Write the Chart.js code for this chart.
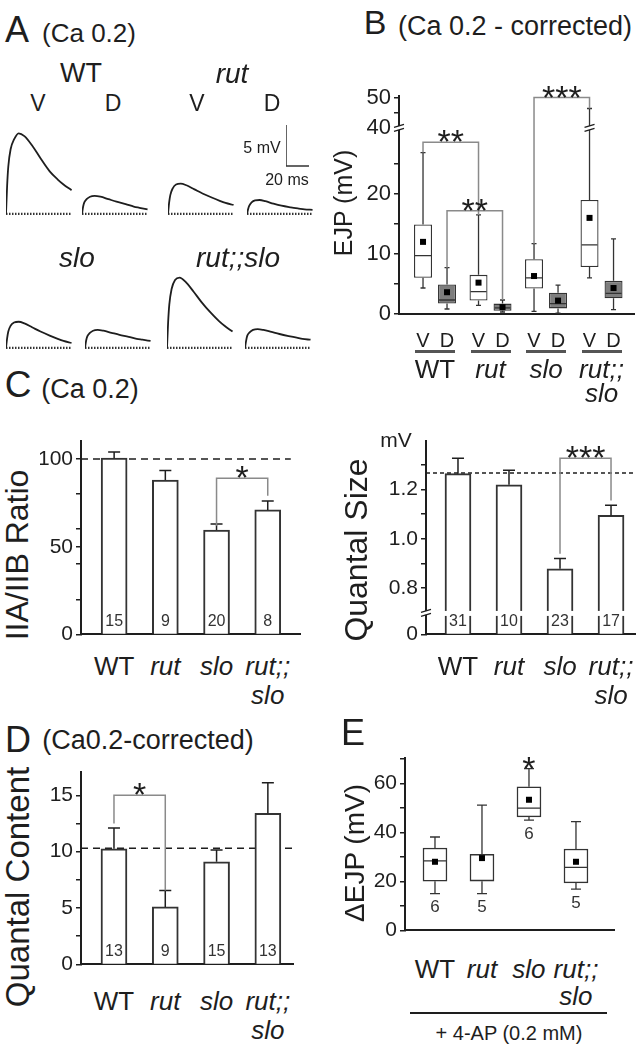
<!DOCTYPE html>
<html>
<head>
<meta charset="utf-8">
<title>EJP figure</title>
<script src="https://cdn.jsdelivr.net/npm/chart.js@4.4.1/dist/chart.umd.min.js"></script>
<style>
  html, body { margin: 0; padding: 0; background: #fff; }
  #fig { position: relative; width: 644px; height: 1050px; overflow: hidden;
         font-family: "Liberation Sans", Arial, sans-serif; color: #1e1e1e; }
  #fig canvas { position: absolute; }
  .t { position: absolute; white-space: nowrap; line-height: 1; transform: translate(-50%, -50%); }
  .t.i { font-style: italic; }
  .t.r { transform: translate(-50%, -50%) rotate(-90deg); }
  .rule { position: absolute; }
</style>
</head>
<body>
<div id="fig"></div>
<script>
const FONT = '"Liberation Sans", Arial, sans-serif';
const INK = '#1e1e1e';

// A: sample EJP traces (ms, mV)
const traceTime = [0, 1, 2, 4, 7, 11, 16, 23, 30, 38, 45, 50, 57];
const wtV   = [0, 3.5, 5.8, 7.9, 9.1, 9.85, 9.5, 8.3, 6.8, 5.2, 4.2, 3.6, 2.9];
const wtD   = [0, 0.9, 1.4, 1.8, 2.1, 2.2, 2.1, 1.8, 1.5, 1.2, 0.9, 0.75, 0.55];
const rutV  = [0, 1.4, 2.3, 3.1, 3.6, 3.7, 3.5, 3.0, 2.5, 2.0, 1.6, 1.35, 1.1];
const rutD  = [0, 0.6, 1.0, 1.4, 1.65, 1.7, 1.55, 1.25, 1.0, 0.8, 0.65, 0.55, 0.5];
const sloV  = [0, 1.2, 2.0, 2.7, 3.1, 3.2, 3.0, 2.5, 2.0, 1.5, 1.1, 0.85, 0.6];
const sloD  = [0, 0.9, 1.4, 1.8, 2.1, 2.2, 2.1, 1.85, 1.6, 1.35, 1.1, 1.0, 0.85];
const rsV   = [0, 3.2, 5.3, 7.2, 8.3, 8.6, 8.1, 6.9, 5.6, 4.3, 3.3, 2.7, 2.0];
const rsD   = [0, 0.9, 1.5, 1.9, 2.2, 2.3, 2.2, 1.95, 1.7, 1.45, 1.25, 1.1, 1.0];
const scaleMv = 5;
const scaleMs = 20;

const genotypes = ['WT', 'rut', 'slo', 'rut;;slo'];

// B: EJP box plots (mV), ventral (V) and dorsal (D)
const bVLow  = [4.3, 1.4, 0.4, 6.0];
const bVQ1   = [6.0, 2.2, 4.2, 7.8];
const bVMed  = [9.7, 3.7, 6.0, 11.5];
const bVQ3   = [14.9, 6.5, 9.1, 19.0];
const bVHigh = [26.9, 16.5, 11.7, 46.4];
const bVMean = [12.0, 5.2, 6.3, 16.0];
const bDLow  = [0.8, 0.3, 0.1, 0.7];
const bDQ1   = [1.7, 0.5, 0.9, 2.6];
const bDMed  = [2.3, 1.0, 1.7, 3.4];
const bDQ3   = [4.9, 1.7, 3.5, 5.5];
const bDHigh = [7.7, 2.3, 4.8, 12.5];
const bDMean = [3.6, 1.1, 2.2, 4.3];
const ejpTicks    = [0, 5, 10, 15, 20, 25, 40, 45, 50];
const ejpTickText = ['0', '', '10', '', '20', '', '40', '', '50'];

// C left: IIA/IIB ratio (%)
const ratioMean = [100.5, 88, 59.5, 71];
const ratioSem  = [3.5, 5.5, 3.5, 5];
const ratioN    = [15, 9, 20, 8];
const ratioTicks    = [0, 20, 40, 50, 60, 80, 100];
const ratioTickText = ['0', '', '', '50', '', '', '100'];

// C right: quantal size (mV), axis broken below 0.8
const sizeMean = [1.264, 1.219, 0.879, 1.095];
const sizeSem  = [0.063, 0.059, 0.041, 0.041];
const sizeN    = [31, 10, 23, 17];
const sizeTicks    = [0.613, 0.8, 0.9, 1.0, 1.1, 1.2, 1.3];
const sizeTickText = ['0', '0.8', '', '1.0', '', '1.2', ''];

// D: quantal content
const contentMean = [10.25, 5.1, 9.1, 13.4];
const contentSem  = [1.85, 1.45, 1.05, 2.7];
const contentN    = [13, 9, 15, 13];
const contentTicks    = [0, 2.5, 5, 7.5, 10, 12.5, 15];
const contentTickText = ['0', '', '5', '', '10', '', '15'];

// E: change of EJP with 4-AP (mV)
const eLow  = [15, 15, 45, 16.8];
const eQ1   = [20.1, 20.1, 46.3, 19.4];
const eMed  = [28.4, 20.4, 49.9, 25.7];
const eQ3   = [33.6, 31.0, 58.6, 33.2];
const eHigh = [38.1, 51.1, 66, 44.4];
const eMean = [28.0, 29.5, 53.3, 28.0];
const eN    = [6, 5, 6, 5];
const eSig  = ['', '', '*', ''];
const eTicks    = [0, 10, 20, 30, 40, 50, 60, 70];
const eTickText = ['0', '', '20', '', '40', '', '60', ''];

const fig = document.getElementById('fig');

function makeCanvas(left, top, w, h) {
  const c = document.createElement('canvas');
  c.width = w; c.height = h;
  c.style.left = left + 'px'; c.style.top = top + 'px';
  fig.appendChild(c);
  return c;
}
function label(text, x, y, size, cls) {
  const d = document.createElement('div');
  d.className = 't' + (cls ? ' ' + cls : '');
  d.textContent = text;
  d.style.left = x + 'px'; d.style.top = y + 'px'; d.style.fontSize = size + 'px';
  fig.appendChild(d);
}
function rule(x, y, w, h, color) {
  const d = document.createElement('div');
  d.className = 'rule';
  Object.assign(d.style, { left: x + 'px', top: y + 'px', width: w + 'px', height: h + 'px', background: color });
  fig.appendChild(d);
}

// broken axis for B: 40-50 squeezed above 31
const toD = v => (v < 40 ? v : 31 + (v - 40) * 0.508);

function stars(ctx, x, bottom, text) {
  ctx.save();
  ctx.fillStyle = INK;
  ctx.font = '34px ' + FONT;
  ctx.textAlign = 'center';
  ctx.textBaseline = 'alphabetic';
  ctx.fillText(text, x, bottom + 15);
  ctx.restore();
}
function bracket(ctx, xa, ya, xb, yb, yt, text) {
  ctx.save();
  ctx.strokeStyle = '#8a8a8a';
  ctx.lineWidth = 1.5;
  ctx.beginPath();
  ctx.moveTo(xa, ya); ctx.lineTo(xa, yt); ctx.lineTo(xb, yt); ctx.lineTo(xb, yb);
  ctx.stroke();
  ctx.restore();
  stars(ctx, (xa + xb) / 2, yt - 4, text);
}
function breakMark(ctx, x, y) {
  ctx.save();
  ctx.fillStyle = '#fff';
  ctx.fillRect(x - 5, y - 2, 10, 4);
  ctx.strokeStyle = INK;
  ctx.lineWidth = 1.3;
  ctx.beginPath();
  ctx.moveTo(x - 5, y - 0.5); ctx.lineTo(x + 5, y - 3.5);
  ctx.moveTo(x - 5, y + 3.5); ctx.lineTo(x + 5, y + 0.5);
  ctx.stroke();
  ctx.restore();
}

// ---------- Panel A ----------
const traceScales = {
  x: { type: 'linear', display: false, min: 0, max: 60 },
  y: { type: 'linear', display: false, min: -0.5, max: 10.5 }
};
function traceChart(canvas, values) {
  return new Chart(canvas, {
    type: 'line',
    data: { datasets: [
      { data: traceTime.map((t, i) => ({ x: t, y: values[i] })),
        borderColor: INK, borderWidth: 1.8, pointRadius: 0, cubicInterpolationMode: 'monotone' },
      { data: [{ x: traceTime[0], y: 0 }, { x: traceTime[traceTime.length - 1], y: 0 }],
        borderColor: '#333', borderWidth: 2.2, borderDash: [1.5, 1.5], pointRadius: 0 }
    ] },
    options: {
      responsive: false, animation: false, events: [],
      layout: { autoPadding: false, padding: { left: 2, right: 2, top: 2, bottom: 3 } },
      plugins: { legend: { display: false }, tooltip: { enabled: false } },
      scales: traceScales
    }
  });
}
[[wtV, 4, 126], [wtD, 80, 126], [rutV, 166, 126], [rutD, 245, 126],
 [sloV, 4, 260], [sloD, 83, 260], [rsV, 165, 260], [rsD, 243, 260]]
  .forEach(([vals, l, t]) => traceChart(makeCanvas(l, t, 73, 95), vals));

// scale bar, on the same mV / ms scale as the traces
new Chart(makeCanvas(284, 78, 73, 95), {
  type: 'line',
  data: { datasets: [{
    data: [{ x: 0, y: scaleMv }, { x: 0, y: 0 }, { x: scaleMs, y: 0 }],
    borderColor: '#333', borderWidth: 1.5, pointRadius: 0
  }] },
  options: {
    responsive: false, animation: false, events: [],
    layout: { autoPadding: false, padding: { left: 2, right: 2, top: 2, bottom: 3 } },
    plugins: { legend: { display: false }, tooltip: { enabled: false } },
    scales: traceScales
  }
});

// ---------- generic axis chart ----------
function axisChart(canvas, o) {
  return new Chart(canvas, {
    type: 'bar',
    data: { datasets: o.datasets },
    options: {
      responsive: false, animation: false, events: [],
      layout: { autoPadding: false, padding: o.pad },
      plugins: { legend: { display: false }, tooltip: { enabled: false } },
      scales: {
        x: {
          type: 'linear', min: o.xMin, max: o.xMax, offset: false,
          afterBuildTicks: s => { s.ticks = genotypes.map((g, i) => ({ value: i + 1 })); },
          ticks: { display: false }, grid: { display: false },
          border: { color: INK, width: 2 },
          afterFit: s => { s.height = o.xH; }
        },
        y: {
          type: 'linear', min: o.yMin, max: o.yMax,
          afterBuildTicks: s => { s.ticks = o.ticks.map(v => ({ value: v })); },
          ticks: {
            autoSkip: false, padding: 3, color: INK,
            font: { family: FONT, size: o.tickSize || 21 },
            callback: (v, i) => o.tickText[i]
          },
          grid: { drawOnChartArea: false, tickLength: 5, color: INK, lineWidth: 1.5 },
          border: { color: INK, width: 2 },
          afterFit: s => { s.width = o.yW; }
        }
      }
    },
    plugins: o.plugins
  });
}

function categoryLabels(chart, canvas, y1, y2, size) {
  genotypes.forEach((g, i) => {
    const x = canvas.offsetLeft + chart.scales.x.getPixelForValue(i + 1);
    const parts = g.split(';;');
    if (parts.length > 1) {
      label(parts[0] + ';;', x, y1, size, 'i');
      label(parts[1], x, y2, size, 'i');
    } else {
      label(g, x, y1, size, g === 'WT' ? '' : 'i');
    }
  });
}

// bar chart with sem, n, reference line and one bracket
function barChart(canvas, o) {
  const extras = {
    id: 'barExtras',
    beforeDatasetsDraw(chart) {
      const { ctx, chartArea: area, scales: { x, y } } = chart;
      const ry = y.getPixelForValue(o.ref);
      ctx.save();
      ctx.strokeStyle = INK; ctx.lineWidth = 1.5; ctx.setLineDash(o.refDash);
      ctx.beginPath();
      ctx.moveTo(area.left, ry);
      ctx.lineTo(o.refTo ? x.getPixelForValue(o.refTo) : area.right, ry);
      ctx.stroke();
      ctx.restore();
    },
    afterDatasetsDraw(chart) {
      const { ctx, chartArea: area, scales: { y } } = chart;
      const bars = chart.getDatasetMeta(0).data;
      ctx.save();
      ctx.strokeStyle = INK; ctx.lineWidth = 1.5;
      bars.forEach((b, i) => {
        const top = y.getPixelForValue(o.mean[i] + o.sem[i]);
        ctx.beginPath();
        ctx.moveTo(b.x, b.y); ctx.lineTo(b.x, top);
        ctx.moveTo(b.x - 6, top); ctx.lineTo(b.x + 6, top);
        ctx.stroke();
      });
      if (o.breakAt !== undefined) {
        const by = y.getPixelForValue(o.breakAt);
        ctx.fillStyle = '#fff';
        bars.forEach(b => ctx.fillRect(b.x - b.width / 2 - 2, by - 2, b.width + 4, 5));
        breakMark(ctx, area.left, by);
      }
      ctx.fillStyle = '#333';
      ctx.font = '16px ' + FONT;
      ctx.textAlign = 'center'; ctx.textBaseline = 'middle';
      bars.forEach((b, i) => ctx.fillText(String(o.n[i]), b.x, area.bottom - 13));
      const s = o.sig;
      bracket(ctx, bars[s.a].x, y.getPixelForValue(s.aEnd), bars[s.b].x, y.getPixelForValue(s.bEnd),
              y.getPixelForValue(s.top), s.text);
      ctx.restore();
    }
  };
  return axisChart(canvas, {
    pad: o.pad, xMin: o.xMin, xMax: o.xMax, xH: 5, yW: o.yW,
    yMin: o.yMin, yMax: o.yMax, ticks: o.ticks, tickText: o.tickText,
    datasets: [{
      data: o.mean.map((v, i) => ({ x: i + 1, y: v })),
      backgroundColor: '#fff', borderColor: '#333', borderWidth: 2,
      barThickness: 26, base: o.yMin
    }],
    plugins: [extras]
  });
}

// box plot extras: whiskers, median, mean
function boxExtras(series, cap, after) {
  return {
    id: 'boxExtras',
    afterDatasetsDraw(chart) {
      const { ctx, scales: { y } } = chart;
      ctx.save();
      series.forEach((s, di) => {
        chart.getDatasetMeta(di).data.forEach((b, i) => {
          const half = b.width / 2;
          const pTop = Math.min(b.y, b.base), pBot = Math.max(b.y, b.base);
          const yHi = y.getPixelForValue(s.high[i]);
          const yLo = y.getPixelForValue(s.low[i]);
          const yMed = y.getPixelForValue(s.med[i]);
          ctx.strokeStyle = '#333'; ctx.lineWidth = 1.3;
          ctx.beginPath();
          ctx.moveTo(b.x, pTop); ctx.lineTo(b.x, yHi);
          ctx.moveTo(b.x - cap, yHi); ctx.lineTo(b.x + cap, yHi);
          ctx.moveTo(b.x, pBot); ctx.lineTo(b.x, yLo);
          ctx.moveTo(b.x - cap, yLo); ctx.lineTo(b.x + cap, yLo);
          ctx.moveTo(b.x - half + 1, yMed); ctx.lineTo(b.x + half - 1, yMed);
          ctx.stroke();
          const yMean = y.getPixelForValue(s.mean[i]);
          ctx.fillStyle = '#000';
          ctx.fillRect(b.x - 3, yMean - 3, 6, 6);
        });
      });
      if (after) after(chart, ctx);
      ctx.restore();
    }
  };
}

// ---------- Panel B ----------
const sigB = [
  { a: [0, 0], b: [1, 0], level: 28.6, text: '**' },
  { a: [0, 1], b: [1, 1], level: 17.2, text: '**' },
  { a: [2, 0], b: [3, 0], level: 50.0, text: '***' }
];
const highB = [bVHigh, bDHigh];
const cB = makeCanvas(330, 80, 310, 250);
const chartB = axisChart(cB, {
  pad: { left: 0, top: 10, right: 6, bottom: 0 },
  xMin: 0.351, xMax: 4.585, xH: 4, yW: 69,
  yMin: 0, yMax: 36.3, tickSize: 22,
  ticks: ejpTicks.map(toD), tickText: ejpTickText,
  datasets: [
    { data: bVQ1.map((q, i) => ({ x: i + 1, y: [toD(q), toD(bVQ3[i])] })),
      backgroundColor: '#fff', borderColor: '#333', borderWidth: 1.3, borderSkipped: false,
      categoryPercentage: 0.865, barPercentage: 0.75 },
    { data: bDQ1.map((q, i) => ({ x: i + 1, y: [toD(q), toD(bDQ3[i])] })),
      backgroundColor: '#7d7d7d', borderColor: '#333', borderWidth: 1.3, borderSkipped: false,
      categoryPercentage: 0.865, barPercentage: 0.75 }
  ],
  plugins: [boxExtras([
    { low: bVLow.map(toD), med: bVMed.map(toD), high: bVHigh.map(toD), mean: bVMean.map(toD) },
    { low: bDLow.map(toD), med: bDMed.map(toD), high: bDHigh.map(toD), mean: bDMean.map(toD) }
  ], 2.5, (chart, ctx) => {
    const y = chart.scales.y;
    const px = ([g, s]) => chart.getDatasetMeta(s).data[g].x;
    sigB.forEach(s => {
      bracket(ctx, px(s.a), y.getPixelForValue(toD(highB[s.a[1]][s.a[0]])),
              px(s.b), y.getPixelForValue(toD(highB[s.b[1]][s.b[0]])),
              y.getPixelForValue(toD(s.level)), s.text);
    });
    const by = y.getPixelForValue(toD(40));
    breakMark(ctx, chart.chartArea.left, by);
    breakMark(ctx, px([3, 0]), by);
  })]
});
chartB.getDatasetMeta(0).data.forEach((v, i) => {
  const d = chartB.getDatasetMeta(1).data[i];
  const xv = cB.offsetLeft + v.x, xd = cB.offsetLeft + d.x;
  label('V', xv, 340, 20);
  label('D', xd, 340, 20);
  rule(xv - 8, 350, xd - xv + 16, 3, '#555');
});
categoryLabels(chartB, cB, 369, 393, 26);

// ---------- Panel C (left) ----------
const cC1 = makeCanvas(40, 425, 265, 225);
const chartC1 = barChart(cC1, {
  pad: { left: 0, top: 10, right: 5, bottom: 0 }, yW: 41,
  xMin: 0.353, xMax: 4.63, yMin: 0, yMax: 110.5,
  ticks: ratioTicks, tickText: ratioTickText,
  mean: ratioMean, sem: ratioSem, n: ratioN,
  ref: 100, refDash: [7, 5], refTo: 4.45,
  sig: { a: 2, b: 3, top: 89, aEnd: 62, bEnd: 79, text: '*' }
});
categoryLabels(chartC1, cC1, 666, 695, 26);

// ---------- Panel C (right) ----------
const cC2 = makeCanvas(380, 425, 260, 225);
const chartC2 = barChart(cC2, {
  pad: { left: 0, top: 10, right: 5, bottom: 0 }, yW: 46,
  xMin: 0.373, xMax: 4.47, yMin: 0.613, yMax: 1.398,
  ticks: sizeTicks, tickText: sizeTickText,
  mean: sizeMean, sem: sizeSem, n: sizeN,
  ref: 1.267, refDash: [4, 3], breakAt: 0.7,
  sig: { a: 2, b: 3, top: 1.327, aEnd: 0.94, bEnd: 1.155, text: '***' }
});
categoryLabels(chartC2, cC2, 666, 695, 26);

// ---------- Panel D ----------
const cD = makeCanvas(40, 756, 258, 224);
const chartD = barChart(cD, {
  pad: { left: 0, top: 10, right: 5, bottom: 0 }, yW: 41,
  xMin: 0.357, xMax: 4.49, yMin: 0, yMax: 17.1,
  ticks: contentTicks, tickText: contentTickText,
  mean: contentMean, sem: contentSem, n: contentN,
  ref: 10.3, refDash: [7, 5],
  sig: { a: 0, b: 1, top: 15.0, aEnd: 12.5, bEnd: 6.55, text: '*' }
});
categoryLabels(chartD, cD, 1001, 1030, 26);

// ---------- Panel E ----------
const cE = makeCanvas(360, 742, 260, 204);
const chartE = axisChart(cE, {
  pad: { left: 0, top: 10, right: 6, bottom: 0 },
  xMin: 0.362, xMax: 4.809, xH: 5, yW: 45,
  yMin: 0, yMax: 70.5,
  ticks: eTicks, tickText: eTickText,
  datasets: [{
    data: eQ1.map((q, i) => ({ x: i + 1, y: [q, eQ3[i]] })),
    backgroundColor: '#fff', borderColor: '#333', borderWidth: 1.5, borderSkipped: false,
    barThickness: 24
  }],
  plugins: [boxExtras([{ low: eLow, med: eMed, high: eHigh, mean: eMean }], 5, (chart, ctx) => {
    const y = chart.scales.y;
    chart.getDatasetMeta(0).data.forEach((b, i) => {
      ctx.fillStyle = '#333';
      ctx.font = '17px ' + FONT;
      ctx.textAlign = 'center'; ctx.textBaseline = 'middle';
      ctx.fillText(String(eN[i]), b.x, y.getPixelForValue(eLow[i]) + 14);
      if (eSig[i]) stars(ctx, b.x, y.getPixelForValue(eHigh[i]) - 4, eSig[i]);
    });
  })]
});
categoryLabels(chartE, cE, 969, 996, 26);

// ---------- text ----------
label('A', 17, 30, 36);
label('(Ca 0.2)', 89, 33, 26);
label('WT', 81, 73, 27);
label('rut', 232, 74, 28, 'i');
label('V', 38, 103, 23); label('D', 113, 103, 23);
label('V', 197, 103, 23); label('D', 272, 103, 23);
label('slo', 77, 258, 28, 'i');
label('rut;;slo', 238, 258, 28, 'i');
label('5 mV', 262, 148, 16);
label('20 ms', 287, 180, 16);

label('B', 375, 22, 34);
label('(Ca 0.2 - corrected)', 515, 26, 27);
label('EJP (mV)', 343, 203, 25, 'r');

label('C', 18, 384, 37);
label('(Ca 0.2)', 90, 389, 27);
label('IIA/IIB Ratio', 17, 555, 32, 'r');
label('mV', 396, 439, 21);
label('Quantal Size', 356, 550, 32, 'r');

label('D', 18, 740, 36);
label('(Ca0.2-corrected)', 148, 740, 27);
label('Quantal Content', 17, 887, 33, 'r');

label('E', 353, 733, 36);
label('ΔEJP (mV)', 355, 853, 28, 'r');
rule(410, 1012, 197, 2, INK);
label('+ 4-AP (0.2 mM)', 509, 1033, 20);
</script>
</body>
</html>
